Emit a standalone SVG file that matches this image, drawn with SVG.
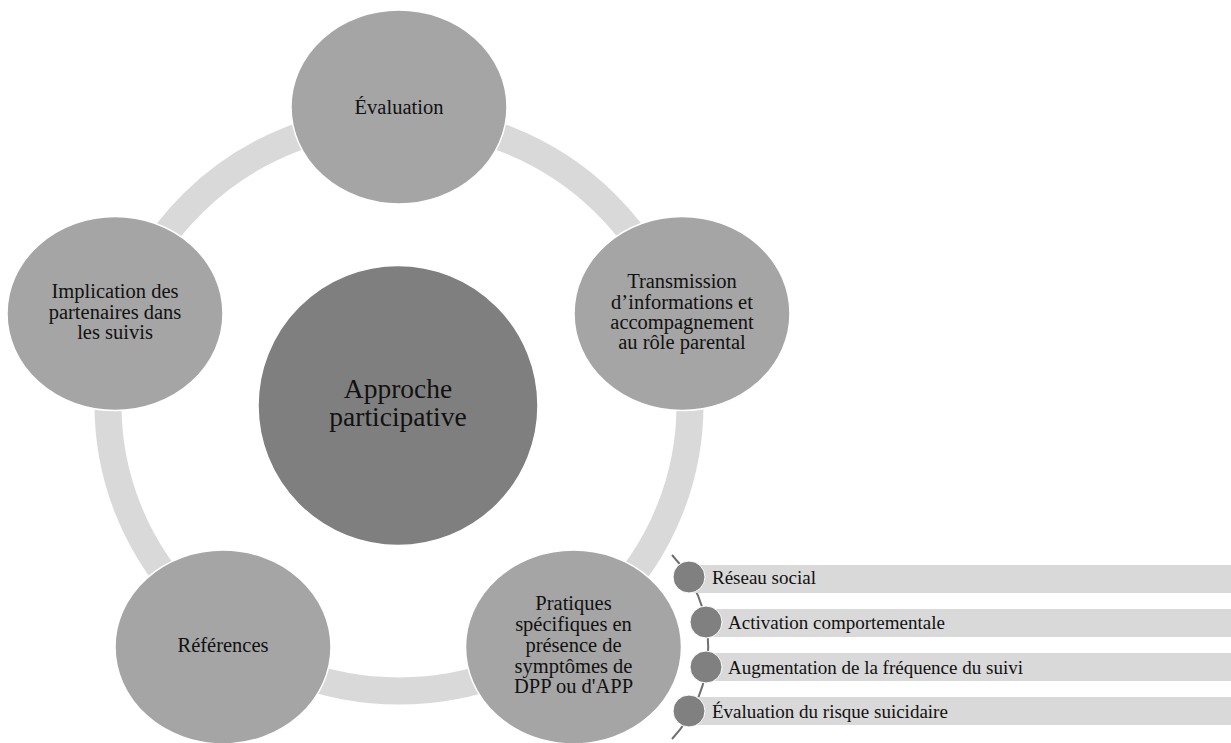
<svg xmlns="http://www.w3.org/2000/svg" width="1231" height="743" viewBox="0 0 1231 743">
<style>
.node{fill:#a5a5a5;stroke:#ffffff;stroke-width:1.5}
.core{fill:#7f7f7f;stroke:#ffffff;stroke-width:1.5}
.t{font-family:"Liberation Serif","Times New Roman",serif;font-size:20.5px;fill:#111;text-anchor:middle}
.tc{font-family:"Liberation Serif","Times New Roman",serif;font-size:27.5px;fill:#111;text-anchor:middle}
.bar{fill:#d9d9d9}
.dot{fill:#808080;stroke:#ffffff;stroke-width:1}
.bt{font-family:"Liberation Serif","Times New Roman",serif;font-size:19px;fill:#111}
</style>
<rect width="1231" height="743" fill="#ffffff"/>
<g id="connectors">
<ellipse cx="399" cy="405" rx="291" ry="286" fill="none" stroke="#d9d9d9" stroke-width="27"/>
<path d="M672,555 A135,135 0 0 1 672,739" fill="none" stroke="#6f6f6f" stroke-width="2"/>
</g>
<g id="center">
<ellipse class="core" cx="398" cy="405.5" rx="140" ry="140"/>
<text class="tc" x="398" y="398">Approche</text>
<text class="tc" x="398" y="426">participative</text>
</g>
<g id="evaluation">
<ellipse class="node" cx="399" cy="107" rx="108" ry="97"/>
<text class="t" x="399" y="114">Évaluation</text>
</g>
<g id="transmission">
<ellipse class="node" cx="682" cy="313.5" rx="108" ry="97"/>
<text class="t" x="682" y="288">Transmission</text>
<text class="t" x="682" y="308.5">d’informations et</text>
<text class="t" x="682" y="329">accompagnement</text>
<text class="t" x="682" y="349">au rôle parental</text>
</g>
<g id="implication">
<ellipse class="node" cx="115" cy="313.5" rx="108" ry="97"/>
<text class="t" x="115" y="298">Implication des</text>
<text class="t" x="115" y="318.5">partenaires dans</text>
<text class="t" x="115" y="339">les suivis</text>
</g>
<g id="references">
<ellipse class="node" cx="223" cy="647" rx="108" ry="97"/>
<text class="t" x="223" y="652">Références</text>
</g>
<g id="pratiques">
<ellipse class="node" cx="573.5" cy="647" rx="108" ry="97"/>
<text class="t" x="573.5" y="610">Pratiques</text>
<text class="t" x="573.5" y="631">spécifiques en</text>
<text class="t" x="573.5" y="652">présence de</text>
<text class="t" x="573.5" y="673">symptômes de</text>
<text class="t" x="573.5" y="693">DPP ou d'APP</text>
</g>
<g id="item1">
<rect class="bar" x="689" y="565" width="542" height="28"/>
<circle class="dot" cx="689" cy="577" r="16"/>
<text class="bt" x="712" y="584">Réseau social</text>
</g>
<g id="item2">
<rect class="bar" x="706" y="609" width="525" height="28"/>
<circle class="dot" cx="706" cy="622" r="16"/>
<text class="bt" x="728" y="629">Activation comportementale</text>
</g>
<g id="item3">
<rect class="bar" x="706" y="653" width="525" height="28"/>
<circle class="dot" cx="706" cy="667" r="16"/>
<text class="bt" x="728" y="674">Augmentation de la fréquence du suivi</text>
</g>
<g id="item4">
<rect class="bar" x="689" y="697" width="542" height="28"/>
<circle class="dot" cx="689" cy="711" r="16"/>
<text class="bt" x="712" y="718">Évaluation du risque suicidaire</text>
</g>
</svg>
